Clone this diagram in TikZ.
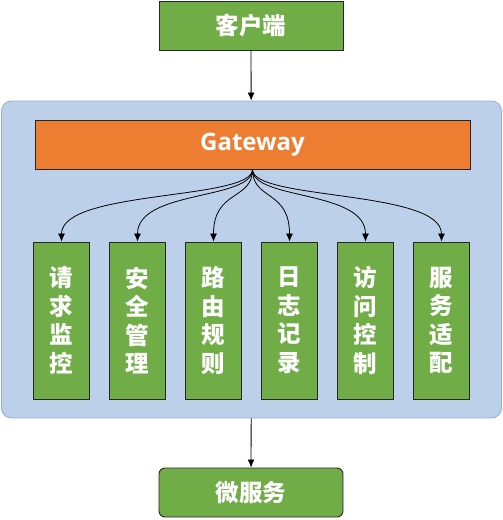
\documentclass[tikz,border=0pt]{standalone}
\usepackage{fontspec}
\setmainfont{Open Sans}
\newfontfamily\cjk{Noto Sans CJK SC}
\usetikzlibrary{positioning, arrows.meta}
\definecolor{boxgreen}{RGB}{112,173,71}
\definecolor{gworange}{RGB}{237,125,49}
\definecolor{panelblue}{RGB}{189,208,233}
\definecolor{panelline}{RGB}{150,176,218}
\tikzset{endbox/.style={draw=black!85, line width=0.9pt, fill=boxgreen, text=white, minimum width=184pt, minimum height=49pt, inner sep=0pt, font=\cjk\bfseries\fontsize{23.5}{26}\selectfont}}
\tikzset{modbox/.style={draw=black!85, line width=0.9pt, fill=boxgreen, text=white, minimum width=56pt, minimum height=157pt, inner sep=0pt, align=center, font=\cjk\bfseries\fontsize{23.5}{28.5}\selectfont}}
\def \gap {76}

\begin{document}
\begin{tikzpicture}[x=1pt, y=-1pt, >={Latex[length=8pt, width=7pt]}]
    \useasboundingbox (0,0) rectangle (503,520);

    \node[draw=panelline, line width=0.9pt, fill=panelblue, rounded corners=10pt, minimum width=500pt, minimum height=317pt] (panel) at (251.5,259.5) {};
    \node[endbox] (client) at (251,25.5) {客户端};
    \node[endbox, rounded corners=6pt] (micro) at (251,492.5) {微服务};
    \node[draw=black!85, line width=0.9pt, fill=gworange, text=white, minimum width=435pt, minimum height=49pt, inner sep=0pt, font=\bfseries\fontsize{24}{28}\selectfont] (gw) at (252.5,144.5) {Gateway};

    \foreach \s/\t in {1/请\\求\\监\\控, 2/安\\全\\管\\理, 3/路\\由\\规\\则, 4/日\\志\\记\\录, 5/访\\问\\控\\制, 6/服\\务\\适\\配} {
    \node[modbox] (m\s) at ({61.5 + \gap*(\s - 1)},320.5) {\t};
    \draw[->, line width=0.8pt] (gw.south) .. controls +(0,31) and +(0,-52) .. (m\s.north);
    }

    \draw[->, line width=0.8pt] (client) -- (panel);
    \draw[->, line width=0.8pt] (panel) -- (micro);
\end{tikzpicture}
\end{document}
